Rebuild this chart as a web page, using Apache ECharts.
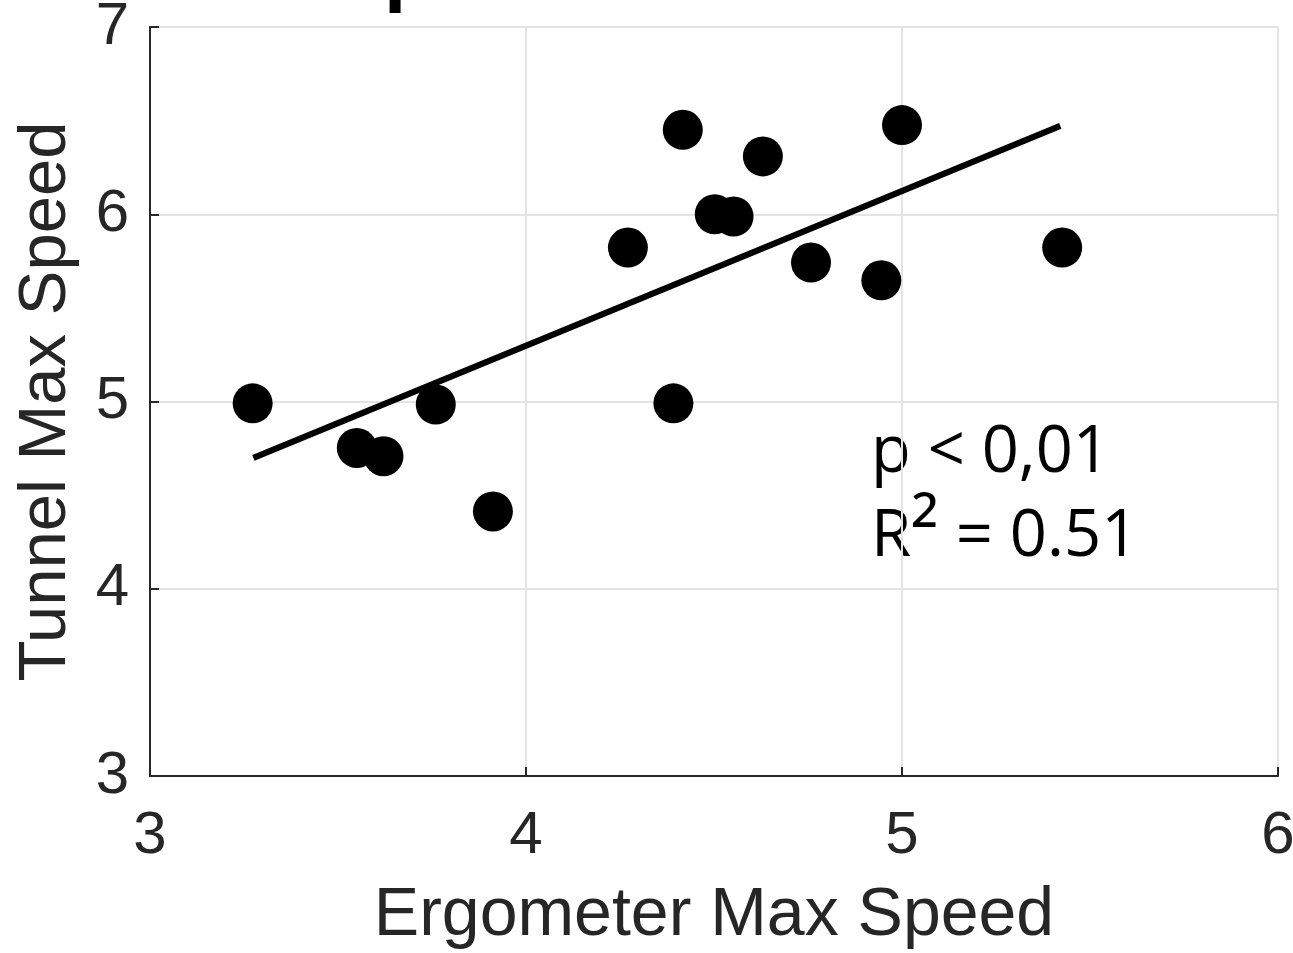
<!DOCTYPE html>
<html>
<head>
<meta charset="utf-8">
<script src="https://cdn.jsdelivr.net/npm/echarts@6/dist/echarts.min.js"></script>
<style>
html,body{margin:0;padding:0;background:#fff;}
#chart{width:1293px;height:953px;}
</style>
</head>
<body>
<div id="chart"></div>
<script>
// Data
const ergometerSpeed = [3.273, 3.550, 3.621, 3.760, 3.912, 4.271, 4.392, 4.417, 4.502, 4.552, 4.630, 4.758, 4.945, 5.000, 5.426];
const tunnelSpeed    = [4.99, 4.752, 4.708, 4.984, 4.413, 5.822, 4.99, 6.451, 6.0, 5.988, 6.309, 5.742, 5.647, 6.476, 5.822];
const fitX = [3.275, 5.421];
const fitY = [4.699, 6.472];
const xTicks = [3, 4, 5, 6];
const yTicks = [3, 4, 5, 6, 7];
const xTitle = 'Ergometer Max Speed';
const yTitle = 'Tunnel Max Speed';
const statLines = ['p < 0,01', 'R{sup|²} = 0.51'];
const titleFragment = 'p';

const points = ergometerSpeed.map((x, i) => [x, tunnelSpeed[i]]);
const fitLine = fitX.map((x, i) => [x, fitY[i]]);

const axisColor = '#262626';
const labelFont = '"Liberation Sans", Arial, sans-serif';
const statFont = '"Open Sans", "Noto Sans", sans-serif';

const chart = echarts.init(document.getElementById('chart'), null, {renderer: 'canvas'});
chart.setOption({
  animation: false,
  backgroundColor: '#ffffff',
  grid: {left: 150, right: 15, top: 27, bottom: 177, containLabel: false, outerBoundsMode: 'none'},
  xAxis: {
    type: 'value', min: xTicks[0], max: xTicks[xTicks.length - 1], interval: 1,
    name: xTitle, nameLocation: 'middle', nameGap: 106,
    nameTextStyle: {fontSize: 68, color: axisColor, fontFamily: labelFont},
    axisLine: {show: true, onZero: false, lineStyle: {color: axisColor, width: 2}},
    axisTick: {show: true, inside: true, length: 9, lineStyle: {color: axisColor, width: 2}},
    axisLabel: {fontSize: 60, color: axisColor, fontFamily: labelFont, margin: 30},
    splitLine: {show: true, lineStyle: {color: '#e3e3e3', width: 2}}
  },
  yAxis: {
    type: 'value', min: yTicks[0], max: yTicks[yTicks.length - 1], interval: 1,
    name: yTitle, nameLocation: 'middle', nameGap: 70, nameRotate: 90,
    nameTextStyle: {fontSize: 67, color: axisColor, fontFamily: labelFont},
    axisLine: {show: true, onZero: false, lineStyle: {color: axisColor, width: 2}},
    axisTick: {show: true, inside: true, length: 9, lineStyle: {color: axisColor, width: 2}},
    axisLabel: {fontSize: 60, color: axisColor, fontFamily: labelFont, margin: 21},
    splitLine: {show: true, lineStyle: {color: '#e3e3e3', width: 2}}
  },
  series: [
    {
      type: 'line', data: fitLine, showSymbol: false, symbol: 'none',
      lineStyle: {color: '#000', width: 6}, z: 2
    },
    {
      type: 'scatter', data: points, symbol: 'circle', symbolSize: 40,
      itemStyle: {color: '#000', opacity: 1}, z: 3
    }
  ],
  graphic: [
    {
      type: 'text', left: 871, top: 411,
      style: {
        text: statLines.join('\n'), fontSize: 65, lineHeight: 84,
        fontFamily: statFont, fill: '#000',
        rich: {
          sup: {fontSize: 80, fontFamily: statFont, fill: '#000', lineHeight: 84}
        }
      }
    },
    {
      type: 'text', x: 384, y: -26,
      style: {
        text: titleFragment, fontSize: 80, fontWeight: 'bold',
        fontFamily: labelFont, fill: '#000', verticalAlign: 'middle'
      }
    }
  ]
});
</script>
</body>
</html>
